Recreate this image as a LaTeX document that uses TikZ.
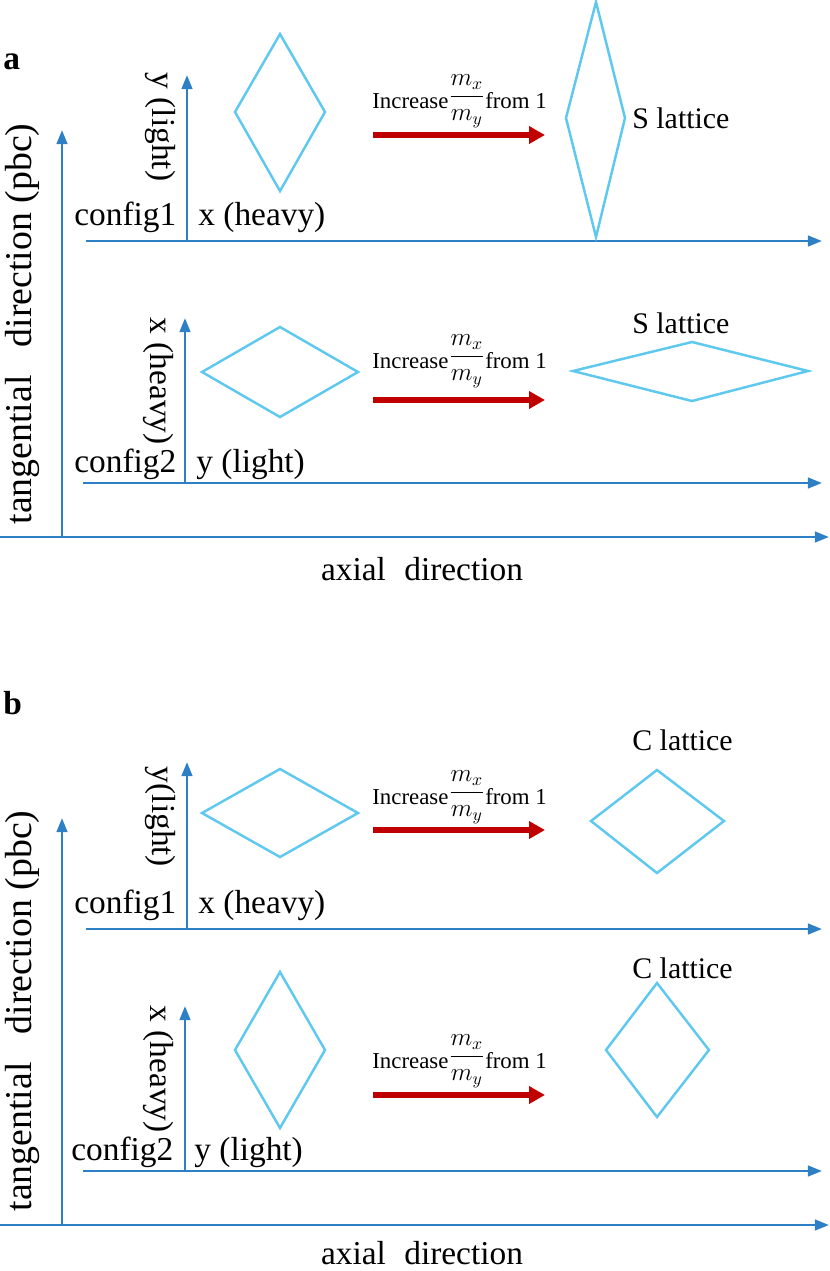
\documentclass[tikz,border=0pt]{standalone}
\usepackage{amsmath}
\usepackage{fontspec}
\setmainfont{Liberation Serif}
\usetikzlibrary{arrows.meta}

\definecolor{axisblue}{RGB}{46,128,198}
\definecolor{cellblue}{RGB}{94,200,238}
\definecolor{pushred}{RGB}{192,0,0}

\newcommand{\massratio}{Increase{\fontsize{14}{16}\selectfont\raisebox{0.2em}{$\dfrac{m_x}{m_y}$}}from 1}

\tikzset{
  axis/.style={draw=axisblue, line width=1.5pt, -{Triangle[length=8pt,width=6pt]}},
  cell/.style={draw=cellblue, line width=1.4pt, line join=miter},
  push/.style={draw=pushred, line width=3pt, -{Triangle[length=9pt,width=9.5pt]}},
  lbl/.style={inner sep=0pt, font=\fontsize{19}{22}\selectfont},
  latlbl/.style={inner sep=0pt, anchor=base west, font=\fontsize{17}{20}\selectfont},
  pushlbl/.style={inner sep=0pt, anchor=base west, font=\fontsize{13}{15}\selectfont},
}

\begin{document}
\begin{tikzpicture}[x=0.2mm, y=-0.2mm]
\useasboundingbox (0,0) rectangle (830,1271);

% ---- panel a ----
\node[lbl, anchor=base west, font=\fontsize{19}{22}\selectfont\bfseries] (tagA) at (3,69) {a};
\coordinate (aO) at (62,537); \coordinate (aL) at (0,537);
\coordinate (aR) at (829,537); \coordinate (aT) at (62,130);
\draw[axis] (aL) -- (aR);
\draw[axis] (aO) -- (aT);
\node[lbl, anchor=base] (axA) at (422,580) {axial\hspace{0.3em} direction};
\node[lbl, anchor=base, rotate=90, font=\fontsize{21.5}{24}\selectfont] (tanA) at (31,324) {tangential\hspace{0.5em} direction (pbc)};

% config1
\coordinate (a1O) at (187,241); \coordinate (a1L) at (86,241);
\coordinate (a1R) at (822,241); \coordinate (a1T) at (187,75);
\draw[axis] (a1L) -- (a1R);
\draw[axis] (a1O) -- (a1T);
\node[lbl, anchor=base west] (cfgA1) at (74,225) {config1};
\node[lbl, anchor=base west] (horA1) at (198,225) {x (heavy)};
\node[lbl, rotate=-90] (verA1) at (160,127) {y (light)};
\draw[cell] (280,34) -- (325,112) -- (280,191) -- (235,112) -- cycle;
\node[pushlbl] (incA1) at (372,108) {\massratio};
\coordinate (pA1s) at (373,135); \coordinate (pA1e) at (545,135);
\draw[push] (pA1s) -- (pA1e);
\draw[cell] (596,2) -- (625,118) -- (596,237) -- (566,118) -- cycle;
\node[latlbl] (latA1) at (632,128) {S lattice};

% config2
\coordinate (a2O) at (185,483); \coordinate (a2L) at (83,483);
\coordinate (a2R) at (822,483); \coordinate (a2T) at (185,318);
\draw[axis] (a2L) -- (a2R);
\draw[axis] (a2O) -- (a2T);
\node[lbl, anchor=base west] (cfgA2) at (74,472) {config2};
\node[lbl, anchor=base west] (horA2) at (196,472) {y (light)};
\node[lbl, rotate=-90] (verA2) at (158,381) {x (heavy)};
\draw[cell] (280,327) -- (358,372) -- (280,417) -- (202,372) -- cycle;
\node[pushlbl] (incA2) at (372,368) {\massratio};
\coordinate (pA2s) at (373,400); \coordinate (pA2e) at (545,400);
\draw[push] (pA2s) -- (pA2e);
\draw[cell] (692,342) -- (808,371) -- (692,401) -- (573,371) -- cycle;
\node[latlbl] (latA2) at (632,333) {S lattice};

% ---- panel b ----
\node[lbl, anchor=base west, font=\fontsize{19}{22}\selectfont\bfseries] (tagB) at (3,714) {b};
\coordinate (bO) at (62,1225); \coordinate (bL) at (0,1225);
\coordinate (bR) at (829,1225); \coordinate (bT) at (62,818);
\draw[axis] (bL) -- (bR);
\draw[axis] (bO) -- (bT);
\node[lbl, anchor=base, text depth=0pt] (axB) at (422,1264) {axial\hspace{0.3em} direction};
\node[lbl, anchor=base, rotate=90, font=\fontsize{21.5}{24}\selectfont] (tanB) at (31,1011) {tangential\hspace{0.5em} direction (pbc)};

% config1
\coordinate (b1O) at (187,929); \coordinate (b1L) at (86,929);
\coordinate (b1R) at (822,929); \coordinate (b1T) at (187,762);
\draw[axis] (b1L) -- (b1R);
\draw[axis] (b1O) -- (b1T);
\node[lbl, anchor=base west] (cfgB1) at (74,913) {config1};
\node[lbl, anchor=base west] (horB1) at (198,913) {x (heavy)};
\node[lbl, rotate=-90] (verB1) at (160,817) {y(light)};
\draw[cell] (280,769) -- (358,813) -- (280,857) -- (202,813) -- cycle;
\node[pushlbl] (incB1) at (372,804) {\massratio};
\coordinate (pB1s) at (373,830); \coordinate (pB1e) at (545,830);
\draw[push] (pB1s) -- (pB1e);
\draw[cell] (657,770) -- (724,821) -- (657,873) -- (591,821) -- cycle;
\node[latlbl] (latB1) at (632,750) {C lattice};

% config2
\coordinate (b2O) at (185,1171); \coordinate (b2L) at (83,1171);
\coordinate (b2R) at (822,1171); \coordinate (b2T) at (185,1006);
\draw[axis] (b2L) -- (b2R);
\draw[axis] (b2O) -- (b2T);
\node[lbl, anchor=base west] (cfgB2) at (71,1160) {config2};
\node[lbl, anchor=base west] (horB2) at (194,1160) {y (light)};
\node[lbl, rotate=-90] (verB2) at (158,1069) {x (heavy)};
\draw[cell] (280,972) -- (325,1050) -- (280,1128) -- (235,1050) -- cycle;
\node[pushlbl] (incB2) at (372,1068) {\massratio};
\coordinate (pB2s) at (373,1095); \coordinate (pB2e) at (545,1095);
\draw[push] (pB2s) -- (pB2e);
\draw[cell] (657,983) -- (709,1050) -- (657,1117) -- (606,1050) -- cycle;
\node[latlbl] (latB2) at (632,978) {C lattice};
\end{tikzpicture}
\end{document}
